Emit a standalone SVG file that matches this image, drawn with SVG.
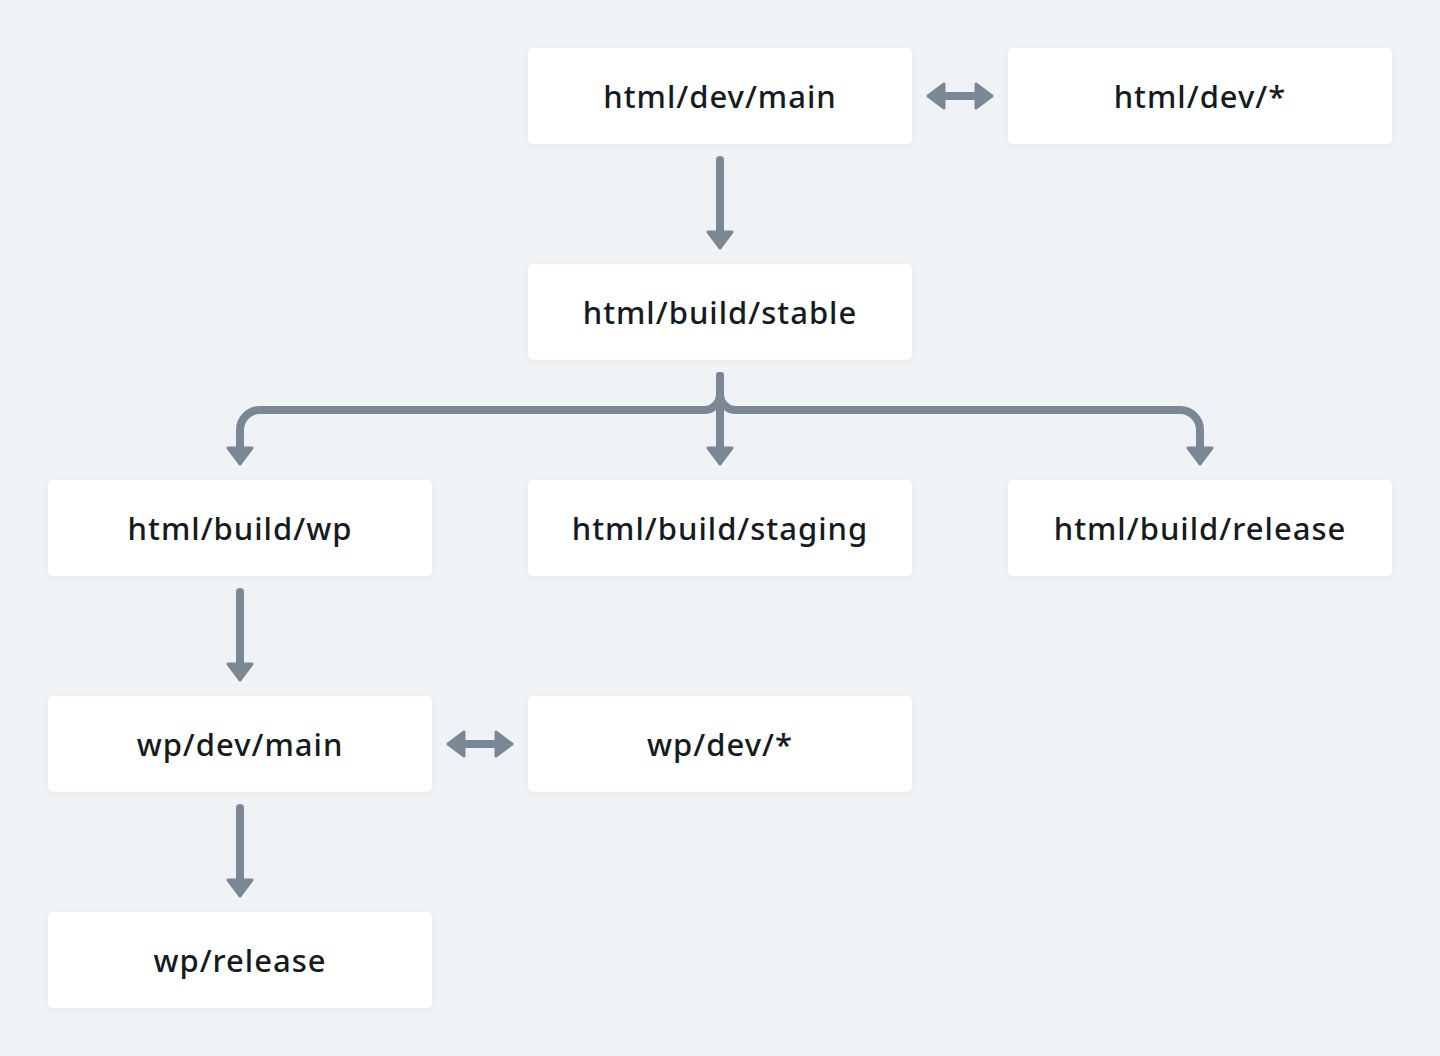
<svg xmlns="http://www.w3.org/2000/svg" width="1440" height="1056" viewBox="0 0 1440 1056">
<style>
.box{fill:#ffffff;filter:url(#sh)}
.lbl{font-family:"Noto Sans","Liberation Sans",sans-serif;font-size:31px;font-weight:500;letter-spacing:1px;fill:#141b22;text-anchor:middle}
.c{fill:none;stroke:#7a8795;stroke-width:8;stroke-linecap:round;stroke-linejoin:round}
</style>
<defs>
<filter id="sh" x="-10%" y="-20%" width="120%" height="150%">
<feDropShadow dx="0" dy="1" stdDeviation="2.5" flood-color="#5a6a7a" flood-opacity="0.08"/>
</filter>
<marker id="ah" markerUnits="userSpaceOnUse" viewBox="-3 -15 24 30" markerWidth="24" markerHeight="30" refX="0" refY="0" orient="auto-start-reverse">
<path d="M0,-12 L16,0 L0,12 Z" fill="#7a8795" stroke="#7a8795" stroke-width="3" stroke-linejoin="round"/>
</marker>
</defs>
<rect width="1440" height="1056" fill="#eff3f6"/>
<g id="connectors">
<path class="c" d="M720,160 V232" marker-end="url(#ah)"/>
<path class="c" d="M944,96 H976" marker-start="url(#ah)" marker-end="url(#ah)"/>
<path class="c" d="M720,376 V448" marker-end="url(#ah)"/>
<path class="c" d="M720,376 V394 A16,16 0 0 1 704,410 H260 A20,20 0 0 0 240,430 V448" marker-end="url(#ah)"/>
<path class="c" d="M720,376 V394 A16,16 0 0 0 736,410 H1180 A20,20 0 0 1 1200,430 V448" marker-end="url(#ah)"/>
<path class="c" d="M240,592 V664" marker-end="url(#ah)"/>
<path class="c" d="M464,744 H496" marker-start="url(#ah)" marker-end="url(#ah)"/>
<path class="c" d="M240,808 V880" marker-end="url(#ah)"/>
</g>
<g id="n-html-dev-main"><rect class="box" x="528" y="48" width="384" height="96" rx="6"/><text class="lbl" x="720" y="108">html/dev/main</text></g>
<g id="n-html-dev-star"><rect class="box" x="1008" y="48" width="384" height="96" rx="6"/><text class="lbl" x="1200" y="108">html/dev/*</text></g>
<g id="n-html-build-stable"><rect class="box" x="528" y="264" width="384" height="96" rx="6"/><text class="lbl" x="720" y="324">html/build/stable</text></g>
<g id="n-html-build-wp"><rect class="box" x="48" y="480" width="384" height="96" rx="6"/><text class="lbl" x="240" y="540">html/build/wp</text></g>
<g id="n-html-build-staging"><rect class="box" x="528" y="480" width="384" height="96" rx="6"/><text class="lbl" x="720" y="540">html/build/staging</text></g>
<g id="n-html-build-release"><rect class="box" x="1008" y="480" width="384" height="96" rx="6"/><text class="lbl" x="1200" y="540">html/build/release</text></g>
<g id="n-wp-dev-main"><rect class="box" x="48" y="696" width="384" height="96" rx="6"/><text class="lbl" x="240" y="756">wp/dev/main</text></g>
<g id="n-wp-dev-star"><rect class="box" x="528" y="696" width="384" height="96" rx="6"/><text class="lbl" x="720" y="756">wp/dev/*</text></g>
<g id="n-wp-release"><rect class="box" x="48" y="912" width="384" height="96" rx="6"/><text class="lbl" x="240" y="972">wp/release</text></g>
</svg>
